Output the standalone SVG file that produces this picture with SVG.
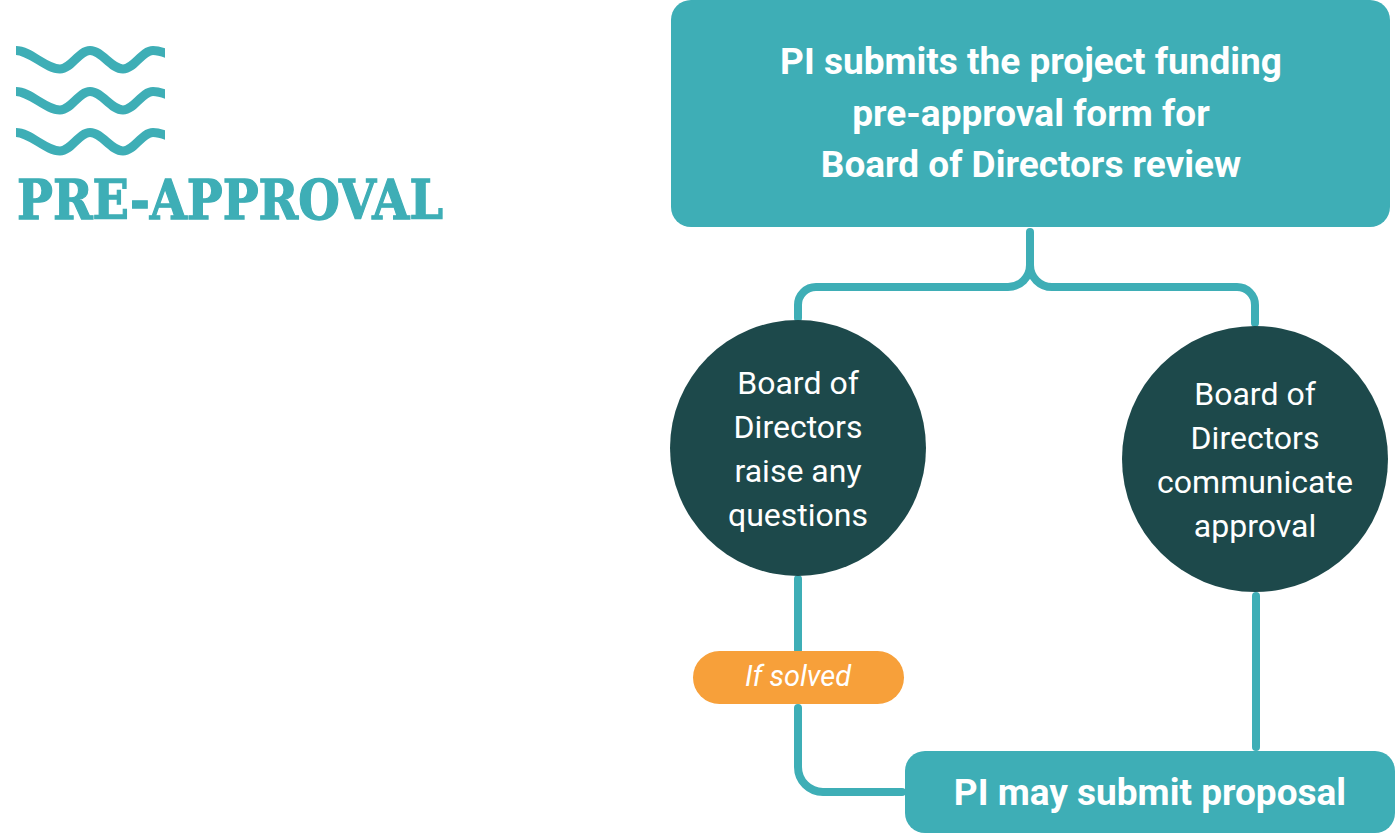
<svg xmlns="http://www.w3.org/2000/svg" width="1397" height="834" viewBox="0 0 1397 834">
<style>
.teal{fill:#3EAEB6}
.dark{fill:#1D494B}
.conn{fill:none;stroke:#3EAEB6;stroke-width:8;stroke-linecap:round;stroke-linejoin:round}
.wave{fill:none;stroke:#3EAEB6;stroke-width:9}
.boxt{font-family:Roboto,"Liberation Sans",sans-serif;font-weight:700;fill:#fff;text-anchor:middle}
.circt{font-family:Roboto,"Liberation Sans",sans-serif;font-weight:400;font-size:32px;fill:#fff;text-anchor:middle}
</style>
<defs>
<clipPath id="wclip"><rect x="16" y="30" width="149" height="130"/></clipPath>
<path id="w" d="M8 50.5 H16 C30 50.5 46 69 60 69 C71 69 79 50.5 90 50.5 C102 50.5 111 69 123 69 C134 69 142 50.5 153 50.5 C158 50.5 163 52 170 55"/>
</defs>
<rect width="1397" height="834" fill="#fff"/>
<g id="title">
<g clip-path="url(#wclip)">
<use href="#w" class="wave"/>
<use href="#w" class="wave" transform="translate(0,41)"/>
<use href="#w" class="wave" transform="translate(0,82)"/>
</g>
<text x="17" y="219" font-family="'DejaVu Serif',serif" font-weight="700" font-size="54" fill="#3EAEB6" stroke="#3EAEB6" stroke-width="1.3" textLength="426" lengthAdjust="spacingAndGlyphs">PRE-APPROVAL</text>
</g>
<g id="connectors">
<path class="conn" d="M1030 232 V265 A22 22 0 0 1 1008 287 H816 A18 18 0 0 0 798 305 V318"/>
<path class="conn" d="M1030 265 A22 22 0 0 0 1052 287 H1237 A18 18 0 0 1 1255 305 V323"/>
<path class="conn" d="M798 579 V650"/>
<path class="conn" d="M798 708 V767 A25 25 0 0 0 823 792 H902"/>
<path class="conn" d="M1256 596 V747"/>
</g>
<g id="node-submit">
<rect x="671" y="0" width="719" height="227" rx="20" class="teal"/>
<text class="boxt" font-size="37"><tspan x="1031" y="74">PI submits the project funding</tspan><tspan x="1031" y="126">pre-approval form for</tspan><tspan x="1031" y="177">Board of Directors review</tspan></text>
</g>
<g id="node-questions">
<circle cx="798" cy="448" r="128" class="dark"/>
<text class="circt"><tspan x="798" y="394">Board of</tspan><tspan x="798" y="438">Directors</tspan><tspan x="798" y="482">raise any</tspan><tspan x="798" y="526">questions</tspan></text>
</g>
<g id="node-approval">
<circle cx="1255" cy="459" r="133" class="dark"/>
<text class="circt"><tspan x="1255" y="405">Board of</tspan><tspan x="1255" y="449">Directors</tspan><tspan x="1255" y="493">communicate</tspan><tspan x="1255" y="537">approval</tspan></text>
</g>
<g id="label-solved">
<rect x="693" y="651" width="211" height="53" rx="26.5" fill="#F7A03A"/>
<text x="798" y="686" font-family="Roboto,'Liberation Sans',sans-serif" font-style="italic" font-size="29" fill="#fff" text-anchor="middle">If solved</text>
</g>
<g id="node-proposal">
<rect x="905" y="751" width="490" height="82" rx="20" class="teal"/>
<text class="boxt" font-size="37" x="1150" y="805">PI may submit proposal</text>
</g>
</svg>
